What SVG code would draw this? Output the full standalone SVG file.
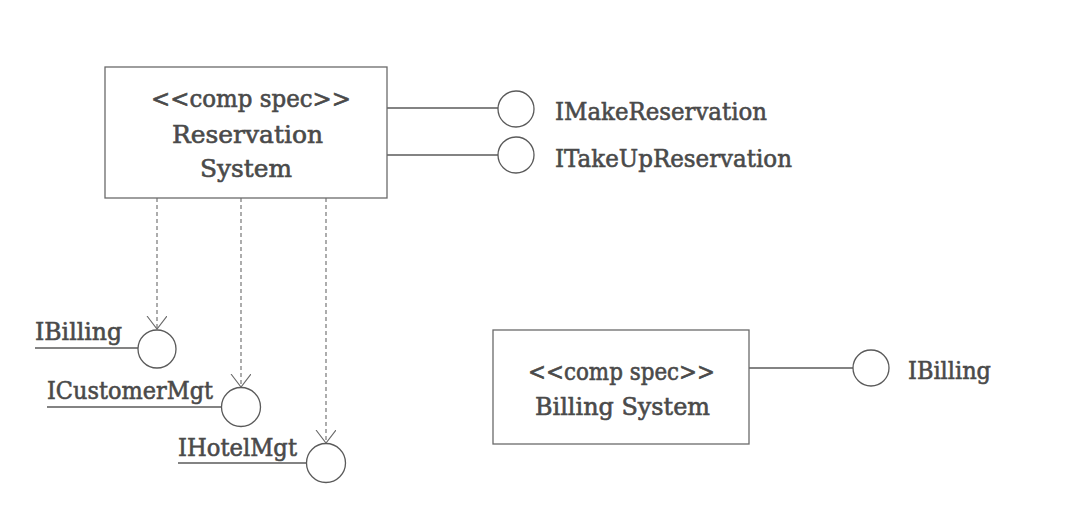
<svg xmlns="http://www.w3.org/2000/svg" width="1080" height="524" viewBox="0 0 1080 524">
<style>
.box{fill:#fff;stroke:#6a6a6a;stroke-width:1.3}
.ifc{fill:#fff;stroke:#5a5a5a;stroke-width:1.3}
.ln{stroke:#5a5a5a;stroke-width:1.3;fill:none}
.dep{stroke:#6a6a6a;stroke-width:1.1;fill:none;stroke-dasharray:4 3}
.t{font-family:"DejaVu Serif","Liberation Serif",serif;font-size:24px;fill:#4a4a4a;stroke:#4a4a4a;stroke-width:0.6}
.tb{font-family:"DejaVu Serif","Liberation Serif",serif;font-size:24px;fill:#4a4a4a;stroke:#4a4a4a;stroke-width:0.6;text-anchor:middle}
</style>
<defs>
<marker id="open" markerWidth="20" markerHeight="22" refX="13" refY="10" orient="auto" markerUnits="userSpaceOnUse">
<path d="M0,0 L13,10 L0,20" fill="none" stroke="#6a6a6a" stroke-width="1.1"/>
</marker>
</defs>
<rect width="1080" height="524" fill="#fff"/>
<g id="connectors">
<line class="ln" x1="387" y1="108" x2="498" y2="108"/>
<line class="ln" x1="387" y1="155" x2="498" y2="155"/>
<line class="dep" x1="157" y1="198" x2="157" y2="329" marker-end="url(#open)"/>
<line class="dep" x1="241" y1="198" x2="241" y2="387" marker-end="url(#open)"/>
<line class="dep" x1="326" y1="198" x2="326" y2="443" marker-end="url(#open)"/>
<line class="ln" x1="749" y1="368" x2="853" y2="368"/>
</g>
<g id="reservation-system">
<rect class="box" x="105" y="67" width="282" height="131"/>
<text class="tb" x="251" y="107" textLength="200" lengthAdjust="spacingAndGlyphs">&lt;&lt;comp spec&gt;&gt;</text>
<text class="tb" x="247.5" y="143" textLength="151" lengthAdjust="spacingAndGlyphs">Reservation</text>
<text class="tb" x="246" y="177" textLength="92" lengthAdjust="spacingAndGlyphs">System</text>
</g>
<g id="imakereservation">
<circle class="ifc" cx="516" cy="109" r="18"/>
<text class="t" x="555" y="120" textLength="212" lengthAdjust="spacingAndGlyphs">IMakeReservation</text>
</g>
<g id="itakeupreservation">
<circle class="ifc" cx="516" cy="155" r="18"/>
<text class="t" x="555" y="167" textLength="237" lengthAdjust="spacingAndGlyphs">ITakeUpReservation</text>
</g>
<g id="ibilling-req">
<line class="ln" x1="35" y1="348" x2="138" y2="348"/>
<circle class="ifc" cx="157" cy="349" r="19"/>
<text class="t" x="35" y="340" textLength="87" lengthAdjust="spacingAndGlyphs">IBilling</text>
</g>
<g id="icustomermgt">
<line class="ln" x1="47" y1="407" x2="222" y2="407"/>
<circle class="ifc" cx="241" cy="407" r="19.5"/>
<text class="t" x="47" y="399" textLength="166" lengthAdjust="spacingAndGlyphs">ICustomerMgt</text>
</g>
<g id="ihotelmgt">
<line class="ln" x1="178" y1="463" x2="306" y2="463"/>
<circle class="ifc" cx="326" cy="463" r="19.5"/>
<text class="t" x="178" y="456" textLength="119" lengthAdjust="spacingAndGlyphs">IHotelMgt</text>
</g>
<g id="billing-system">
<rect class="box" x="493" y="330" width="256" height="114"/>
<text class="tb" x="621.5" y="380" textLength="187" lengthAdjust="spacingAndGlyphs">&lt;&lt;comp spec&gt;&gt;</text>
<text class="tb" x="622.5" y="415" textLength="175" lengthAdjust="spacingAndGlyphs">Billing System</text>
</g>
<g id="ibilling-prov">
<circle class="ifc" cx="871" cy="368" r="18"/>
<text class="t" x="908" y="379" textLength="83" lengthAdjust="spacingAndGlyphs">IBilling</text>
</g>
</svg>
